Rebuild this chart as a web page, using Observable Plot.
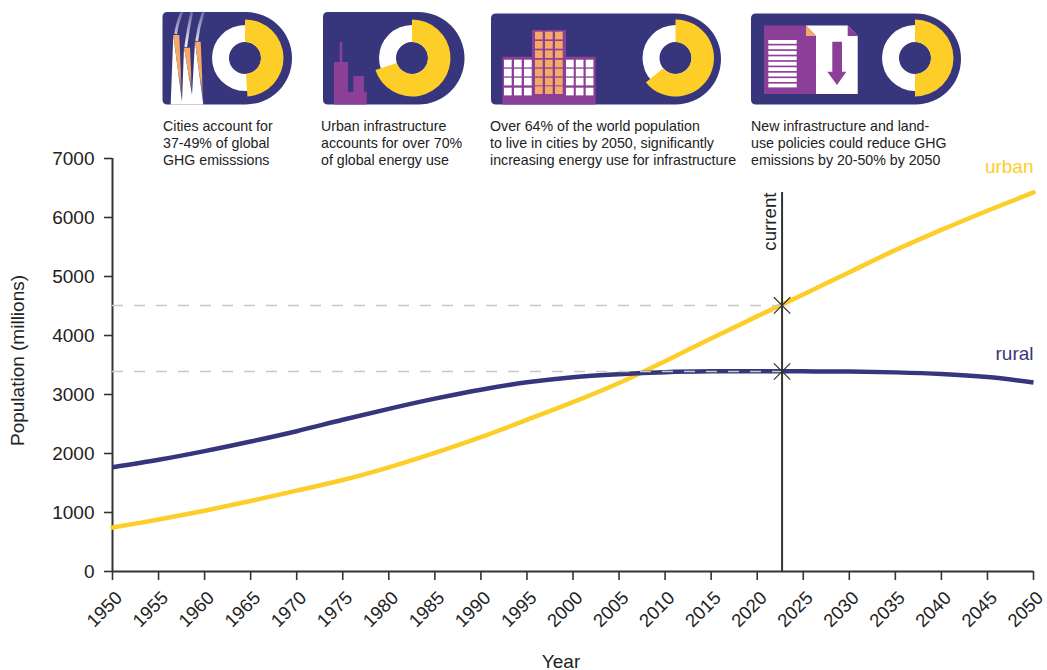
<!DOCTYPE html>
<html>
<head>
<meta charset="utf-8">
<script src="https://cdn.jsdelivr.net/npm/d3@7"></script>
<script src="https://cdn.jsdelivr.net/npm/@observablehq/plot@0.6"></script>
<style>
  html, body { margin: 0; padding: 0; background: #fff; }
  svg { display: block; font-family: "Liberation Sans", Arial, sans-serif; }
</style>
</head>
<body>
<div id="chart"></div>
<script>
// Population in millions, by year
const years = [1950,1955,1960,1965,1970,1975,1980,1985,1990,1995,2000,2005,2010,2015,2020,2025,2030,2035,2040,2045,2050];
const urbanValues = [745,880,1030,1195,1370,1550,1765,2010,2277,2571,2870,3195,3565,3950,4325,4695,5073,5447,5790,6115,6425];
const ruralValues = [1768,1893,2040,2203,2378,2571,2757,2930,3082,3206,3294,3345,3378,3392,3395,3392,3388,3375,3348,3295,3205];

// The present-day marker
const currentYear = 2022.7;
const currentUrban = 4510;
const currentRural = 3390;

const yearTicks = d3.range(1950, 2051, 5);
const populationTicks = d3.range(0, 7001, 1000);

// Infographic panels: headline share shown by each donut, and its caption
const panelShares = [49, 70, 64, 50];
const panelCaptions = [
  "Cities account for\n37-49% of global\nGHG emisssions",
  "Urban infrastructure\naccounts for over 70%\nof global energy use",
  "Over 64% of the world population\nto live in cities by 2050, significantly\nincreasing energy use for infrastructure",
  "New infrastructure and land-\nuse policies could reduce GHG\nemissions by 20-50% by 2050"
];
const captionLeft = [162.5, 320.5, 489.5, 750.5];

const NAVY = "#37367c";
const YELLOW = "#fdcd28";
const PURPLE = "#8c3f96";
const ORANGE = "#f4aa66";
const INK = "#222222";
const AXIS = "#333333";

const rows = (values, series) => years.map((year, i) => ({year, value: values[i], series}));

// Draws the four icon panels across the top of the figure
function iconPanels() {
  const g = d3.create("svg:g");
  const defs = g.append("defs");
  const fade = defs.append("linearGradient").attr("id", "stack-fade").attr("x1", 0).attr("x2", 0).attr("y1", 0).attr("y2", 1);
  fade.append("stop").attr("offset", "55%").attr("stop-color", ORANGE);
  fade.append("stop").attr("offset", "100%").attr("stop-color", ORANGE).attr("stop-opacity", 0.1);
  const smoke = defs.append("linearGradient").attr("id", "smoke-fade").attr("gradientUnits", "userSpaceOnUse")
    .attr("x1", 0).attr("x2", 0).attr("y1", 44).attr("y2", 12);
  smoke.append("stop").attr("offset", "0%").attr("stop-color", "#e8e8f2");
  smoke.append("stop").attr("offset", "100%").attr("stop-color", "#6a69a2");

  const panels = [
    {left: 162.5, right: 292, top: 12, cx: 245, cy: 58},
    {left: 323, right: 464.5, top: 12, cx: 412, cy: 58},
    {left: 491, right: 721, top: 13.5, cx: 675.5, cy: 58},
    {left: 751, right: 961, top: 13.5, cx: 915, cy: 58}
  ];
  const bottom = 104.5;
  panels.forEach((p, i) => {
    const r = (bottom - p.top) / 2;
    g.append("path").attr("fill", NAVY).attr("d",
      `M${p.left + 5},${p.top}H${p.right - r}A${r},${r} 0 0 1 ${p.right - r},${bottom}H${p.left + 5}` +
      `Q${p.left},${bottom} ${p.left},${bottom - 5}V${p.top + 5}Q${p.left},${p.top} ${p.left + 5},${p.top}Z`);
  });

  const poly = (points, fill) => g.append("polygon").attr("points", points.map(d => d.join(",")).join(" ")).attr("fill", fill);
  const rect = (x, y, w, h, fill) => g.append("rect").attr("x", x).attr("y", y).attr("width", w).attr("height", h).attr("fill", fill);

  // Smokestacks
  [[[175.7,34],[176.7,25],[181.7,12]], [[185.7,47],[188.3,28],[191.7,12]], [[196.7,41],[198.3,26.7],[203.3,12]]].forEach(s => {
    g.append("path").attr("d", `M${s[0]}Q${s[1]} ${s[2]}`).attr("fill", "none").attr("stroke", "url(#smoke-fade)").attr("stroke-width", 2.8);
  });
  poly([[170.7,104.5],[173.3,35],[182,101.7],[184,47.7],[192,95],[195,41.7],[203.3,104.5]], "#ffffff");
  poly([[173.3,35],[179.3,35],[182,101]], "url(#stack-fade)");
  poly([[184,47.7],[190,47.7],[192,94]], "url(#stack-fade)");
  poly([[195,41.7],[200.7,41.7],[203.3,103]], "url(#stack-fade)");

  // Skyline
  poly([[334,104.5],[334,62],[339.7,62],[339.7,42],[342.3,42],[342.3,62],[348,62],[348,91.7],[353.3,91.7],[353.3,76],
        [364,76],[364,91.7],[366.7,91.7],[366.7,104.5]], PURPLE);

  // City blocks with lit windows
  rect(502.3, 56.7, 93.4, 47.8, PURPLE);
  rect(532, 30, 34, 30, PURPLE);
  [504, 514, 524, 566, 575.8, 585.7].forEach(x =>
    [59.7, 68.7, 77.7, 87.7].forEach(y => rect(x, y, 7.7, 7.7, "#ffffff")));
  [535, 545, 555].forEach(x =>
    [31.7, 41, 50.3, 59.7, 68.7, 77.7, 86.3].forEach(y => rect(x, y, 7.7, 7.7, ORANGE)));

  // Policy document and its reduced counterpart
  rect(764, 25.5, 42, 68.5, PURPLE);
  poly([[806,25.5],[816,36],[816,94],[806,94]], PURPLE);
  d3.range(9).forEach(k => rect(768.3, 40 + k * 5.45, 28.4, 3.8, "#ffffff"));
  poly([[806,25.5],[847.7,25.5],[857.7,36],[857.7,94],[816,94],[816,36]], "#ffffff");
  poly([[806,25.5],[816,36],[806,36]], ORANGE);
  poly([[847.7,25.5],[857.7,36],[847.7,36]], PURPLE);
  poly([[832.3,41.7],[842,41.7],[842,71.7],[846.3,71.7],[837,85],[827.3,71.7],[832.3,71.7]], PURPLE);

  // Donuts: a white full ring, with the share as a wider yellow sector from twelve o'clock
  const ring = d3.arc().innerRadius(16).outerRadius(33).startAngle(0).endAngle(2 * Math.PI);
  const sector = d3.arc().innerRadius(16).outerRadius(38.5).startAngle(0);
  panels.forEach((p, i) => {
    const d = g.append("g").attr("transform", `translate(${p.cx},${p.cy})`);
    d.append("path").attr("d", ring()).attr("fill", "#ffffff");
    d.append("path").attr("d", sector({endAngle: panelShares[i] / 100 * 2 * Math.PI})).attr("fill", YELLOW);
  });
  return g.node();
}

const chart = Plot.plot({
  width: 1047,
  height: 670,
  marginTop: 158,
  marginBottom: 99,
  marginLeft: 112,
  marginRight: 14,
  style: {background: "#fff", fontFamily: '"Liberation Sans", Arial, sans-serif', overflow: "visible"},
  x: {domain: [1950, 2050]},
  y: {domain: [0, 7000]},
  marks: [
    iconPanels,
    ...panelCaptions.map((caption, i) => Plot.text([caption], {
      frameAnchor: "top-left",
      dx: captionLeft[i] - 112,
      dy: -39.5,
      lineAnchor: "top",
      lineHeight: 1.2,
      textAnchor: "start",
      fontSize: 14.2,
      fill: INK
    })),
    Plot.axisX({ticks: yearTicks, text: null, tickSize: 9, label: null, stroke: AXIS, strokeWidth: 1.6}),
    Plot.text(yearTicks, {x: d => d, y: 0, text: d => String(d), rotate: -45, textAnchor: "end", dx: 6.6, dy: 23.4, fontSize: 18.5, fill: INK}),
    Plot.axisY({
      ticks: populationTicks, tickFormat: "d", tickSize: 8, tickPadding: 10,
      fontSize: 19, label: null, stroke: AXIS, strokeWidth: 1.6, color: INK
    }),
    Plot.ruleX([1950], {stroke: AXIS, strokeWidth: 2}),
    Plot.ruleY([0], {stroke: AXIS, strokeWidth: 2}),
    Plot.line(rows(urbanValues, "urban"), {x: "year", y: "value", stroke: YELLOW, strokeWidth: 4.5, curve: "catmull-rom", strokeLinecap: "round"}),
    Plot.line(rows(ruralValues, "rural"), {x: "year", y: "value", stroke: NAVY, strokeWidth: 4.5, curve: "catmull-rom", strokeLinecap: "butt"}),
    Plot.ruleY([currentUrban, currentRural], {x1: 1950, x2: currentYear, stroke: "#c8c8c8", strokeWidth: 1.5, strokeDasharray: "11 11"}),
    Plot.ruleX([currentYear], {y1: 0, y2: 6424, stroke: AXIS, strokeWidth: 2}),
    Plot.dot([[currentYear, currentUrban], [currentYear, currentRural]], {x: d => d[0], y: d => d[1], symbol: "times", r: 7.5, stroke: AXIS, strokeWidth: 1.2}),
    Plot.text(["current"], {x: currentYear, y: 6424, dx: -12, rotate: -90, textAnchor: "end", fontSize: 18.7, fill: INK}),
    Plot.text(["urban"], {x: 2050, y: 6864, textAnchor: "end", fontSize: 19, fill: YELLOW}),
    Plot.text(["rural"], {x: 2050, y: 3695, textAnchor: "end", fontSize: 19, fill: NAVY}),
    Plot.text(["Year"], {frameAnchor: "bottom", textAnchor: "middle", dx: -12, dy: 96, fontSize: 19, fill: INK}),
    Plot.text(["Population (millions)"], {frameAnchor: "left", textAnchor: "middle", dx: -95, dy: -4.5, rotate: -90, fontSize: 19, fill: INK})
  ]
});
document.getElementById("chart").appendChild(chart);
</script>
</body>
</html>
